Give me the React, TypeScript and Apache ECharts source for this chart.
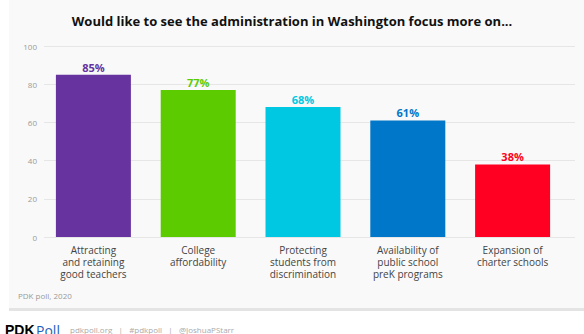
import React, { useEffect, useRef } from "react";
import * as echarts from "echarts";

const categories = [
  "Attracting\nand retaining\ngood teachers",
  "College\naffordability",
  "Protecting\nstudents from\ndiscrimination",
  "Availability of\npublic school\npreK programs",
  "Expansion of\ncharter schools",
];
const values = [85, 77, 68, 61, 38];
const colors = ["#66339f", "#5ccb00", "#00c8e3", "#0077c8", "#ff0022"];
const yTicks = { min: 0, max: 100, interval: 20 };
const titleText = "Would like to see the administration in Washington focus more on...";
const sourceText = "PDK poll, 2020";
const footerText = "pdkpoll.org   |   #pdkpoll   |   @JoshuaPStarr";

const FONT = "'Open Sans', 'Noto Sans', sans-serif";

export default function App() {
  const ref = useRef<HTMLDivElement>(null);
  useEffect(() => {
    document.body.style.margin = "0";
    document.body.style.overflow = "hidden";
    document.documentElement.style.overflow = "hidden";
    document.body.style.background = "#f9f9f9";
    const chart = echarts.init(ref.current!, null, { renderer: "svg" });
    chart.setOption({
      animation: false,
      backgroundColor: "#f9f9f9",
      title: {
        text: titleText,
        left: "center",
        top: 9,
        textStyle: { fontFamily: FONT, fontWeight: 700, fontSize: 13, color: "#111" },
      },
      graphic: [
        {
          type: "rect",
          z: -10,
          silent: true,
          shape: { x: 0, y: 0, width: 9, height: 334 },
          style: { fill: "#ffffff" },
        },
        {
          type: "rect",
          z: -10,
          silent: true,
          shape: { x: 0, y: 308, width: 700, height: 30 },
          style: { fill: "#ffffff" },
        },
        {
          type: "rect",
          z: -9,
          silent: true,
          shape: { x: 9, y: 308, width: 700, height: 3 },
          style: { fill: "#e4e4e4" },
        },
        {
          type: "text",
          left: 18,
          top: 291,
          style: { text: sourceText, fontFamily: FONT, fontSize: 8, fill: "#999" },
        },
        {
          type: "text",
          left: 5,
          top: 323,
          style: {
            text: "PDK",
            fontFamily: "'Liberation Sans', Arial, sans-serif",
            fontWeight: 900,
            fontSize: 14,
            fill: "#000",
          },
        },
        {
          type: "text",
          left: 36,
          top: 323,
          style: { text: "Poll", fontFamily: FONT, fontSize: 14, fill: "#1f5fb8" },
        },
        {
          type: "text",
          left: 70,
          top: 325,
          style: { text: footerText, fontFamily: FONT, fontSize: 8, fill: "#aaa" },
        },
      ],
      grid: [
        { left: 44, right: 9, top: 46, bottom: 97 },
        { left: 41, right: 19, top: 46, bottom: 97 },
      ],
      xAxis: [
        { type: "category", gridIndex: 0, data: categories, show: false },
        {
          type: "category",
          gridIndex: 1,
          data: categories,
          axisLine: { show: false },
          axisTick: { show: false },
          axisLabel: {
            margin: 7,
            fontFamily: FONT,
            fontSize: 10,
            lineHeight: 12,
            color: "#444",
            interval: 0,
          },
        },
      ],
      yAxis: [
        {
          type: "value",
          gridIndex: 0,
          ...yTicks,
          axisLine: { show: false },
          axisTick: { show: false },
          axisLabel: { margin: 7, fontFamily: FONT, fontSize: 8, color: "#999" },
          splitLine: { lineStyle: { color: "#e6e6e6", width: 1 } },
        },
        { type: "value", gridIndex: 1, ...yTicks, show: false, splitLine: { show: false } },
      ],
      series: [
        {
          type: "bar",
          xAxisIndex: 1,
          yAxisIndex: 1,
          barWidth: 75,
          data: values.map((v, i) => ({
            value: v,
            itemStyle: { color: colors[i] },
            label: { color: colors[i] },
          })),
          label: {
            show: true,
            position: "top",
            distance: 2,
            formatter: "{c}%",
            fontFamily: FONT,
            fontWeight: 700,
            fontSize: 11,
          },
        },
      ],
    });
    return () => chart.dispose();
  }, []);
  return (
    <div
      ref={ref}
      style={{ position: "absolute", left: 0, top: 0, width: 584, height: 334 }}
    />
  );
}
